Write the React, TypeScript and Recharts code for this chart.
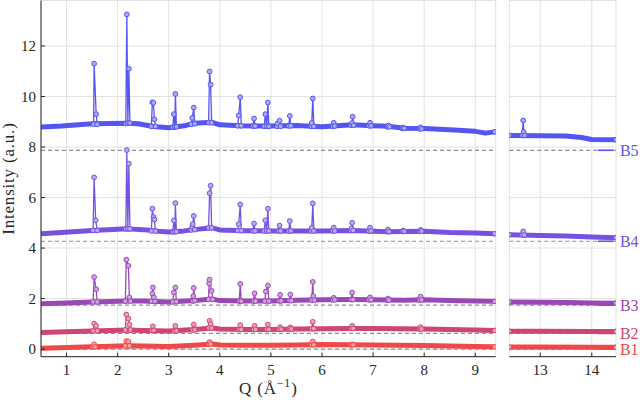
import React from 'react';
import { ComposedChart, Line, XAxis, YAxis, CartesianGrid, ReferenceLine, Label } from 'recharts';

type P = [number, number];

// ---------- data ----------
const seriesNames = ['B1', 'B2', 'B3', 'B4', 'B5'];
const seriesColors = ['#f04848', '#cf4574', '#9a48b6', '#7752e0', '#5555f2'];
const dotFills = ['#f8a6a6', '#e8a2ba', '#cfa4dc', '#bba9ef', '#aaaaf8'];
const offsets = [0.0, 0.62, 1.74, 4.27, 7.87];

const xTicksLow = [1, 2, 3, 4, 5, 6, 7, 8, 9];
const xTicksHigh = [13, 14];
const yTicks = [0, 2, 4, 6, 8, 10, 12];
const yDomain: [number, number] = [-0.3, 13.8];
const xDomainLow: [number, number] = [0.5, 9.4];
const xDomainHigh: [number, number] = [12.4, 14.47];
const labelSegQ: [number, number] = [14.12, 14.43];

// B1
const b1Base: P[] = [[0.5, 0.03], [1.0, 0.06], [1.5, 0.09], [2.2, 0.13], [2.5, 0.12], [3.0, 0.1], [3.5, 0.15], [3.85, 0.2], [4.0, 0.16], [4.5, 0.15], [5.0, 0.15], [5.5, 0.16], [6.0, 0.18], [7.0, 0.16], [8.0, 0.14], [9.0, 0.1], [9.38, 0.09]];
const b1Peaks: P[] = [[1.52, 0.09], [1.54, 0.19], [1.56, 0.09], [2.15, 0.13], [2.17, 0.32], [2.21, 0.3], [2.23, 0.13], [3.78, 0.2], [3.8, 0.28], [3.82, 0.2], [5.8, 0.17], [5.82, 0.3], [5.84, 0.17], [6.57, 0.17], [6.59, 0.19], [6.61, 0.17], [9.38, 0.09]];
const b1BaseHi: P[] = [[12.4, 0.08], [13.0, 0.08], [14.0, 0.07], [14.47, 0.07]];
const b1PeaksHi: P[] = [[12.4, 0.08], [14.47, 0.07]];

// B2
const b2Base: P[] = [[0.5, 0.66], [1.0, 0.69], [1.5, 0.72], [2.2, 0.76], [2.5, 0.74], [3.0, 0.72], [3.5, 0.78], [3.85, 0.84], [4.0, 0.8], [4.5, 0.78], [5.0, 0.78], [5.5, 0.8], [6.0, 0.81], [6.6, 0.82], [7.0, 0.82], [8.0, 0.8], [9.0, 0.76], [9.38, 0.74]];
const b2Peaks: P[] = [[1.52, 0.72], [1.54, 1.01], [1.58, 0.92], [1.6, 0.72], [2.15, 0.76], [2.17, 1.37], [2.21, 1.21], [2.23, 0.97], [2.25, 0.76], [2.67, 0.74], [2.69, 0.9], [2.71, 0.74], [3.11, 0.72], [3.13, 0.92], [3.15, 0.72], [3.47, 0.76], [3.49, 0.97], [3.51, 0.76], [3.78, 0.84], [3.8, 1.12], [3.82, 1.0], [3.84, 0.84], [4.38, 0.78], [4.4, 0.95], [4.42, 0.78], [4.66, 0.78], [4.68, 0.92], [4.7, 0.78], [4.92, 0.78], [4.94, 0.97], [4.96, 0.78], [5.16, 0.79], [5.18, 0.87], [5.2, 0.79], [5.36, 0.8], [5.38, 0.86], [5.4, 0.8], [5.8, 0.81], [5.82, 1.08], [5.84, 0.81], [6.57, 0.82], [6.59, 0.92], [6.61, 0.82], [7.91, 0.8], [7.93, 0.87], [7.95, 0.8], [9.38, 0.74]];
const b2BaseHi: P[] = [[12.4, 0.71], [13.0, 0.71], [14.0, 0.7], [14.47, 0.7]];
const b2PeaksHi: P[] = [[12.4, 0.71], [14.47, 0.7]];

// B3
const b3Base: P[] = [[0.5, 1.8], [1.0, 1.83], [1.5, 1.87], [2.2, 1.9], [2.5, 1.9], [3.0, 1.87], [3.5, 1.92], [3.85, 1.98], [4.0, 1.92], [4.5, 1.9], [5.0, 1.9], [5.5, 1.93], [6.0, 1.95], [6.6, 1.96], [7.0, 1.95], [7.6, 1.93], [8.0, 1.95], [8.5, 1.92], [9.0, 1.9], [9.38, 1.89]];
const b3Peaks: P[] = [[1.52, 1.87], [1.54, 2.85], [1.58, 2.37], [1.6, 1.87], [2.15, 1.9], [2.17, 3.54], [2.21, 3.3], [2.23, 2.05], [2.25, 1.9], [2.66, 1.9], [2.68, 2.2], [2.69, 2.44], [2.71, 2.05], [2.73, 1.89], [3.08, 1.87], [3.1, 2.24], [3.13, 2.44], [3.15, 1.88], [3.47, 1.9], [3.48, 2.1], [3.49, 2.42], [3.51, 1.92], [3.78, 1.97], [3.79, 2.6], [3.8, 2.75], [3.84, 2.3], [3.86, 1.97], [4.38, 1.9], [4.4, 2.58], [4.42, 1.9], [4.66, 1.9], [4.68, 2.21], [4.7, 1.9], [4.88, 1.9], [4.9, 2.28], [4.94, 2.52], [4.96, 1.9], [5.16, 1.91], [5.18, 2.15], [5.2, 1.91], [5.36, 1.92], [5.38, 2.16], [5.4, 1.92], [5.8, 1.94], [5.82, 2.66], [5.83, 2.1], [5.85, 1.94], [6.21, 1.95], [6.23, 2.03], [6.25, 1.95], [6.57, 1.96], [6.59, 2.24], [6.61, 1.96], [6.92, 1.95], [6.94, 2.05], [6.96, 1.95], [7.28, 1.94], [7.29, 2.0], [7.31, 1.94], [7.91, 1.95], [7.93, 2.08], [7.95, 1.95], [9.38, 1.89]];
const b3BaseHi: P[] = [[12.4, 1.87], [13.0, 1.86], [13.5, 1.85], [14.0, 1.83], [14.47, 1.82]];
const b3PeaksHi: P[] = [[12.4, 1.87], [14.47, 1.82]];

// B4
const b4Base: P[] = [[0.5, 4.57], [0.9, 4.62], [1.5, 4.7], [2.2, 4.76], [2.5, 4.73], [2.8, 4.67], [3.0, 4.64], [3.3, 4.68], [3.5, 4.73], [3.85, 4.8], [4.0, 4.72], [4.5, 4.69], [5.0, 4.68], [5.5, 4.68], [6.0, 4.68], [6.6, 4.7], [7.3, 4.65], [7.6, 4.66], [8.0, 4.67], [8.5, 4.62], [9.0, 4.6], [9.38, 4.57]];
const b4Peaks: P[] = [[1.52, 4.7], [1.54, 6.8], [1.57, 5.1], [1.6, 4.7], [2.16, 4.76], [2.18, 7.88], [2.2, 4.76], [2.22, 7.34], [2.24, 4.76], [2.66, 4.68], [2.68, 5.56], [2.7, 5.23], [2.72, 5.13], [2.74, 4.67], [3.08, 4.64], [3.1, 5.09], [3.12, 4.65], [3.13, 5.78], [3.15, 4.65], [3.44, 4.72], [3.46, 4.83], [3.47, 4.95], [3.49, 5.27], [3.51, 4.73], [3.78, 4.8], [3.8, 6.17], [3.82, 6.47], [3.84, 4.8], [4.35, 4.69], [4.37, 4.95], [4.4, 5.73], [4.42, 4.69], [4.65, 4.68], [4.67, 4.97], [4.69, 4.68], [4.87, 4.68], [4.89, 5.1], [4.92, 4.68], [4.94, 5.56], [4.96, 4.68], [5.15, 4.68], [5.17, 4.89], [5.19, 4.68], [5.35, 4.68], [5.37, 5.07], [5.39, 4.68], [5.79, 4.68], [5.8, 4.8], [5.82, 5.77], [5.84, 4.68], [6.21, 4.68], [6.23, 4.81], [6.25, 4.68], [6.57, 4.7], [6.58, 4.78], [6.59, 5.0], [6.61, 4.7], [6.92, 4.68], [6.94, 4.81], [6.96, 4.68], [7.28, 4.65], [7.29, 4.73], [7.31, 4.65], [7.57, 4.66], [7.59, 4.69], [7.61, 4.66], [7.91, 4.67], [7.93, 4.72], [7.95, 4.67], [9.38, 4.57]];
const b4BaseHi: P[] = [[12.4, 4.53], [13.0, 4.5], [13.5, 4.48], [14.0, 4.44], [14.47, 4.41]];
const b4PeaksHi: P[] = [[12.4, 4.53], [12.65, 4.52], [12.67, 4.66], [12.69, 4.52], [14.47, 4.41]];

// B5
const b5Base: P[] = [[0.5, 8.79], [0.9, 8.83], [1.5, 8.92], [2.2, 8.94], [2.4, 8.92], [2.7, 8.81], [3.0, 8.76], [3.3, 8.84], [3.5, 8.94], [3.85, 8.98], [4.0, 8.88], [4.4, 8.84], [5.0, 8.83], [5.5, 8.85], [6.0, 8.8], [6.6, 8.88], [7.0, 8.84], [7.3, 8.82], [7.6, 8.74], [8.0, 8.73], [8.5, 8.68], [9.0, 8.62], [9.2, 8.55], [9.38, 8.6]];
const b5Peaks: P[] = [[1.53, 8.9], [1.54, 11.3], [1.58, 9.3], [1.6, 8.9], [2.16, 8.93], [2.18, 13.25], [2.2, 8.95], [2.22, 11.1], [2.24, 8.95], [2.66, 8.82], [2.68, 9.77], [2.7, 9.75], [2.72, 9.1], [2.74, 8.82], [3.08, 8.78], [3.1, 9.3], [3.12, 8.8], [3.13, 10.1], [3.15, 8.8], [3.44, 8.9], [3.46, 9.15], [3.49, 9.56], [3.51, 8.92], [3.78, 8.96], [3.8, 10.99], [3.82, 10.47], [3.84, 8.96], [4.35, 8.84], [4.37, 9.25], [4.4, 9.97], [4.42, 8.84], [4.65, 8.83], [4.67, 9.13], [4.69, 8.83], [4.87, 8.82], [4.89, 9.3], [4.92, 8.82], [4.94, 9.76], [4.96, 8.82], [5.12, 8.82], [5.13, 8.93], [5.17, 9.04], [5.19, 8.82], [5.35, 8.84], [5.37, 9.23], [5.39, 8.84], [5.79, 8.82], [5.8, 8.95], [5.82, 9.92], [5.84, 8.82], [6.21, 8.82], [6.23, 8.96], [6.25, 8.83], [6.57, 8.86], [6.59, 8.95], [6.6, 9.2], [6.62, 8.86], [6.92, 8.84], [6.94, 8.96], [6.96, 8.84], [7.28, 8.8], [7.3, 8.85], [7.32, 8.8], [7.57, 8.74], [7.59, 8.77], [7.61, 8.74], [7.91, 8.72], [7.93, 8.78], [7.95, 8.72], [9.38, 8.6]];
const b5BaseHi: P[] = [[12.4, 8.46], [13.0, 8.45], [13.5, 8.44], [13.8, 8.38], [14.0, 8.3], [14.47, 8.29]];
const b5PeaksHi: P[] = [[12.4, 8.46], [12.65, 8.46], [12.67, 9.05], [12.68, 8.59], [12.7, 8.46], [14.47, 8.29]];

const basesLow = [b1Base, b2Base, b3Base, b4Base, b5Base];
const peaksLow = [b1Peaks, b2Peaks, b3Peaks, b4Peaks, b5Peaks];
const basesHigh = [b1BaseHi, b2BaseHi, b3BaseHi, b4BaseHi, b5BaseHi];
const peaksHigh = [b1PeaksHi, b2PeaksHi, b3PeaksHi, b4PeaksHi, b5PeaksHi];

// ---------- styling ----------
const FONT = '"Liberation Serif", "Times New Roman", "DejaVu Serif", serif';
const AXIS = '#262626';
const GRID = '#e2e2e2';
const TICK = 4;
const fontStyle = { fontFamily: FONT };

const toPts = (a: P[]) => a.map(([q, i]) => ({ q, i }));

const BottomTick = (props: any) => {
  const { x, y, payload } = props;
  return (
    <g>
      <line x1={x} x2={x} y1={y - 18} y2={y - 18 - TICK} stroke={AXIS} strokeWidth={1} />
      <text x={x} y={y} textAnchor="middle" fontSize={15} style={fontStyle} fill={AXIS}>
        {payload.value}
      </text>
    </g>
  );
};

const TopTick = (props: any) => {
  const { x, y } = props;
  return <line x1={x} x2={x} y1={y} y2={y + TICK} stroke={AXIS} strokeWidth={1} />;
};

const LeftTickLabeled = (props: any) => {
  const { x, y, payload } = props;
  return (
    <g>
      <line x1={x + 5} x2={x + 5 + TICK} y1={y} y2={y} stroke={AXIS} strokeWidth={1} />
      <text x={x} y={y} dy="0.35em" textAnchor="end" fontSize={15} style={fontStyle} fill={AXIS}>
        {payload.value}
      </text>
    </g>
  );
};

const LeftTick = (props: any) => {
  const { x, y } = props;
  return <line x1={x} x2={x + TICK} y1={y} y2={y} stroke={AXIS} strokeWidth={1} />;
};

const RightTick = (props: any) => {
  const { x, y } = props;
  return <line x1={x - TICK} x2={x} y1={y} y2={y} stroke={AXIS} strokeWidth={1} />;
};

const XLabel = (props: any) => {
  const vb = props.viewBox || { x: 41, y: 357, width: 455, height: 43 };
  return (
    <text x={vb.x + vb.width / 2} y={vb.y + 37.5} textAnchor="middle" fontSize={17} style={{ ...fontStyle, letterSpacing: 0.8 }} fill={AXIS}>
      Q (Å<tspan fontSize={12} dy={-7}>−1</tspan><tspan dy={7}>)</tspan>
    </text>
  );
};

const YLabel = (props: any) => {
  const vb = props.viewBox || { x: 0, y: 0, width: 41, height: 357 };
  const cx = vb.x + 14;
  const cy = vb.y + vb.height / 2;
  return (
    <text x={cx} y={cy} transform={`rotate(-90 ${cx} ${cy})`} textAnchor="middle" fontSize={17} style={{ ...fontStyle, letterSpacing: 0.8 }} fill={AXIS}>
      Intensity (a.u.)
    </text>
  );
};

const SeriesLabel = (props: any) => {
  const { viewBox, value, fill } = props;
  if (!viewBox) return null;
  const x = viewBox.x + (viewBox.width || 0) + 6;
  const y = viewBox.y + (viewBox.height || 0) / 2;
  return (
    <text x={x} y={y} dy="0.35em" textAnchor="start" fontSize={16} style={fontStyle} fill={fill}>
      {value}
    </text>
  );
};

type PanelProps = {
  width: number;
  marginLeft: number;
  marginRight: number;
  yAxisWidth: number;
  xDomain: [number, number];
  xTicks: number[];
  bases: P[][];
  peaks: P[][];
  main: boolean;
};

function Panel({ width, marginLeft, marginRight, yAxisWidth, xDomain, xTicks, bases, peaks, main }: PanelProps) {
  return (
    <ComposedChart width={width} height={400} margin={{ top: 0.5, right: marginRight, bottom: 0, left: marginLeft }} style={fontStyle}>
      <CartesianGrid stroke={GRID} strokeWidth={1} />
      <XAxis
        type="number"
        dataKey="q"
        domain={xDomain}
        ticks={xTicks}
        allowDataOverflow
        interval={0}
        height={43.3}
        tickSize={0}
        tickMargin={18}
        tickLine={false}
        axisLine={{ stroke: AXIS, strokeWidth: 1 }}
        tick={<BottomTick />}
      >
        {main && <Label content={<XLabel />} />}
      </XAxis>
      <XAxis
        xAxisId="t"
        orientation="top"
        type="number"
        domain={xDomain}
        ticks={xTicks}
        allowDataOverflow
        interval={0}
        height={0}
        tickSize={0}
        tickMargin={0}
        tickLine={false}
        axisLine={{ stroke: AXIS, strokeWidth: 1 }}
        tick={<TopTick />}
      />
      <YAxis
        type="number"
        domain={yDomain}
        ticks={yTicks}
        allowDataOverflow
        interval={0}
        width={yAxisWidth}
        tickSize={0}
        tickMargin={main ? 5 : 0}
        tickLine={false}
        axisLine={{ stroke: AXIS, strokeWidth: 1 }}
        tick={main ? <LeftTickLabeled /> : <LeftTick />}
      >
        {main && <Label content={<YLabel />} />}
      </YAxis>
      <YAxis
        yAxisId="r"
        orientation="right"
        type="number"
        domain={yDomain}
        ticks={yTicks}
        allowDataOverflow
        interval={0}
        width={0}
        tickSize={0}
        tickMargin={0}
        tickLine={false}
        axisLine={{ stroke: AXIS, strokeWidth: 1 }}
        tick={<RightTick />}
      />
      {offsets.map((o, k) => (
        <ReferenceLine key={`ref-${k}`} y={o} stroke="#8f8f8f" strokeWidth={1.2} strokeDasharray="4 3" />
      ))}
      {bases.map((b, k) => (
        <Line
          key={`base-${k}`}
          data={toPts(b)}
          dataKey="i"
          type="linear"
          stroke={seriesColors[k]}
          strokeWidth={5}
          strokeLinecap="round"
          strokeLinejoin="round"
          dot={false}
          activeDot={false}
          isAnimationActive={false}
        />
      ))}
      {peaks.map((p, k) => (
        <Line
          key={`peak-${k}`}
          data={toPts(p)}
          dataKey="i"
          type="linear"
          stroke={seriesColors[k]}
          strokeWidth={1.3}
          dot={{ r: 2.4, fill: dotFills[k], stroke: seriesColors[k], strokeWidth: 1 }}
          activeDot={false}
          isAnimationActive={false}
        />
      ))}
      {!main &&
        offsets.map((o, k) => (
          <ReferenceLine
            key={`seg-${k}`}
            segment={[
              { x: labelSegQ[0], y: o },
              { x: labelSegQ[1], y: o },
            ]}
            stroke={seriesColors[k]}
            strokeWidth={1.6}
            label={<SeriesLabel value={seriesNames[k]} fill={seriesColors[k]} />}
          />
        ))}
    </ComposedChart>
  );
}

export default function App() {
  return (
    <div style={{ position: 'absolute', left: 0, top: 0, width: 640, height: 400, background: '#ffffff', overflow: 'hidden', fontFamily: FONT }}>
      <div style={{ position: 'absolute', left: 0, top: 0 }}>
        <Panel width={500} marginLeft={0} marginRight={4.3} yAxisWidth={41} xDomain={xDomainLow} xTicks={xTicksLow} bases={basesLow} peaks={peaksLow} main={true} />
      </div>
      <div style={{ position: 'absolute', left: 500, top: 0 }}>
        <Panel width={140} marginLeft={9.3} marginRight={24} yAxisWidth={0} xDomain={xDomainHigh} xTicks={xTicksHigh} bases={basesHigh} peaks={peaksHigh} main={false} />
      </div>
    </div>
  );
}
